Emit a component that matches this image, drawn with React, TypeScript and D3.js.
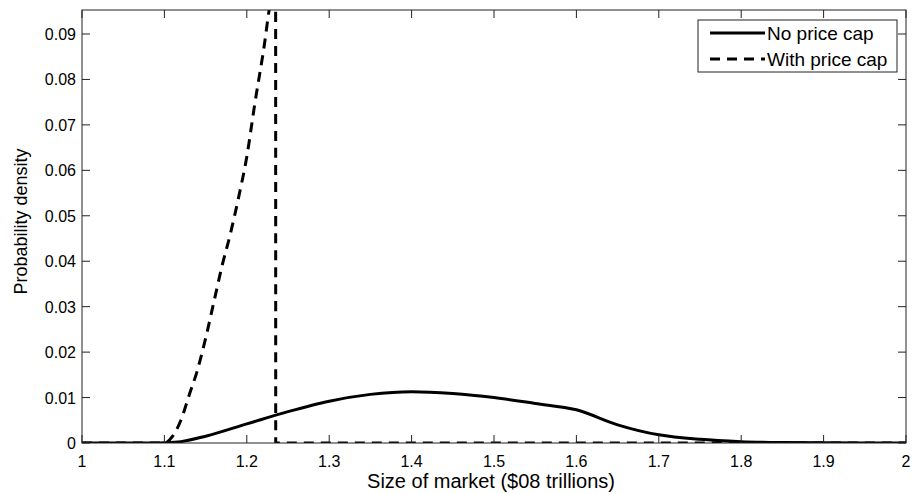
import React from "react";
import * as d3 from "d3";

const noCapX = [1.0, 1.09, 1.1, 1.12, 1.15, 1.2, 1.25, 1.3, 1.35, 1.4, 1.45, 1.5, 1.55, 1.6, 1.65, 1.7, 1.75, 1.8, 1.85, 1.9, 2.0];
const noCapY = [0, 0, 0.00005, 0.0003, 0.0015, 0.0042, 0.0069, 0.0092, 0.0107, 0.0113, 0.0109, 0.01, 0.0087, 0.0073, 0.004, 0.0018, 0.0008, 0.0003, 0.0001, 0.00003, 0];
const capX = [1.0, 1.1, 1.11, 1.12, 1.13, 1.14, 1.15, 1.16, 1.17, 1.18, 1.19, 1.2, 1.21, 1.22, 1.23, 1.235, 1.2351, 2.0];
const capY = [0, 0, 0.0015, 0.005, 0.0105, 0.016, 0.023, 0.031, 0.039, 0.046, 0.054, 0.063, 0.075, 0.086, 0.098, 0.1, 0, 0];
const xTicks = [1, 1.1, 1.2, 1.3, 1.4, 1.5, 1.6, 1.7, 1.8, 1.9, 2];
const yTicks = [0, 0.01, 0.02, 0.03, 0.04, 0.05, 0.06, 0.07, 0.08, 0.09];
const seriesNames = ["No price cap", "With price cap"];
const xLabel = "Size of market ($08 trillions)";
const yLabel = "Probability density";

export default function App() {
  const W = 912, H = 494;
  const L = 82, R = 906, T = 10, B = 443;
  const x = d3.scaleLinear().domain([1, 2]).range([L, R]);
  const y = d3.scaleLinear().domain([0, 0.09]).range([B, 34]);
  const line = d3.line<[number, number]>().x(d => x(d[0])).y(d => y(d[1])).curve(d3.curveMonotoneX);
  const noCap = noCapX.map((v, i) => [v, noCapY[i]] as [number, number]);
  const cap = capX.map((v, i) => [v, capY[i]] as [number, number]);
  const font = "'Liberation Sans', Arial, Helvetica, sans-serif";
  const dash = "10,7";
  return (
    <svg width={W} height={H} style={{ position: "absolute", left: 0, top: 0 }} fontFamily={font}>
      <rect x={0} y={0} width={W} height={H} fill="#fff" />
      <defs>
        <clipPath id="plotclip">
          <rect x={L} y={T} width={R - L} height={B - T} />
        </clipPath>
      </defs>
      <g clipPath="url(#plotclip)">
        <path d={line(cap) || ""} fill="none" stroke="#000" strokeWidth={3} strokeDasharray={dash} strokeLinejoin="miter" />
        <path d={line(noCap) || ""} fill="none" stroke="#000" strokeWidth={3} strokeLinejoin="round" />
      </g>
      <rect x={L} y={T} width={R - L} height={B - T} fill="none" stroke="#222" strokeWidth={1} />
      {xTicks.map(t => (
        <g key={"x" + t}>
          <line x1={x(t)} x2={x(t)} y1={B} y2={B - 8} stroke="#222" />
          <line x1={x(t)} x2={x(t)} y1={T} y2={T + 8} stroke="#222" />
          <text x={x(t)} y={467} fontSize={16} textAnchor="middle" fill="#000">{String(t)}</text>
        </g>
      ))}
      {yTicks.map(t => (
        <g key={"y" + t}>
          <line x1={L} x2={L + 8} y1={y(t)} y2={y(t)} stroke="#222" />
          <line x1={R} x2={R - 8} y1={y(t)} y2={y(t)} stroke="#222" />
          <text x={76} y={y(t) + 6} fontSize={16} textAnchor="end" fill="#000">{t === 0 ? "0" : t.toFixed(2)}</text>
        </g>
      ))}
      <text x={491} y={488} fontSize={20} textAnchor="middle" fill="#000">{xLabel}</text>
      <text transform={`translate(27,${(145 + 298) / 2}) rotate(-90)`} fontSize={18} textAnchor="middle" fill="#000">{yLabel}</text>
      <g>
        <rect x={698} y={20} width={199} height={52} fill="#fff" stroke="#222" strokeWidth={1} />
        <line x1={710} x2={765} y1={33} y2={33} stroke="#000" strokeWidth={3} />
        <line x1={710} x2={765} y1={59} y2={59} stroke="#000" strokeWidth={3} strokeDasharray={dash} />
        <text x={767} y={40} fontSize={19} fill="#000">{seriesNames[0]}</text>
        <text x={767} y={66} fontSize={19} fill="#000">{seriesNames[1]}</text>
      </g>
    </svg>
  );
}
